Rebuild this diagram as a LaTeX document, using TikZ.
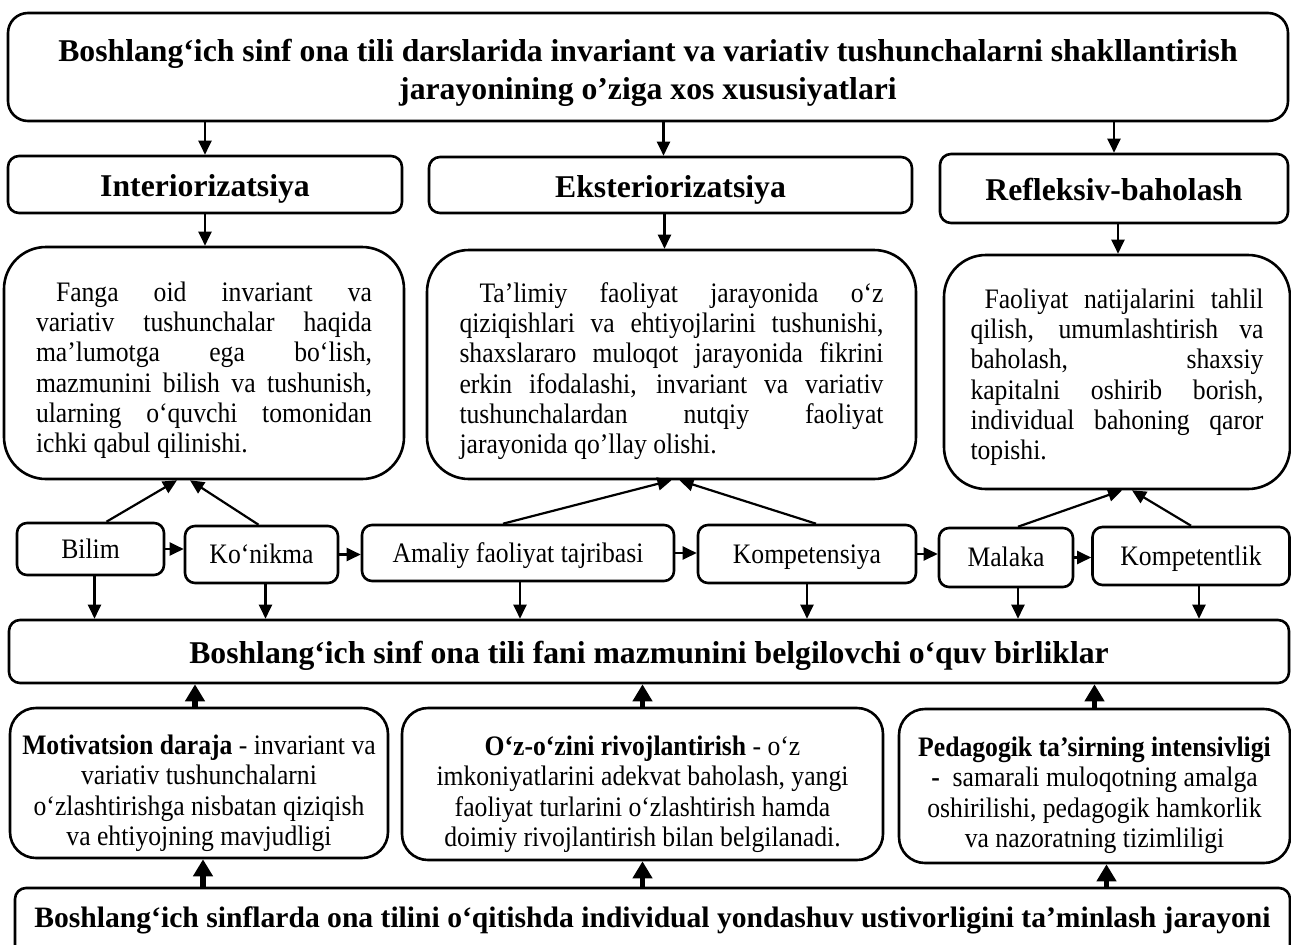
\documentclass[tikz,border=0pt]{standalone}
\usepackage{fontspec}
\setmainfont{Liberation Serif}
\newfontfamily\bodyfont[FakeStretch=0.91]{Liberation Serif}
\usetikzlibrary{arrows.meta}
\hyphenpenalty=10000
\tolerance=10000
\hbadness=10000

\begin{document}
\begin{tikzpicture}[x=1pt,y=-1pt,line width=2.6pt,
  title node/.style={draw,rounded corners=20pt,align=center,inner sep=0pt,
    font=\fontsize{31.7}{38}\selectfont\bfseries},
  head node/.style={title node,rounded corners=11pt,text height=24pt,text depth=0pt},
  text node/.style={draw,rounded corners=42pt,align=justify,inner sep=0pt,
    font=\bodyfont\fontsize{28.2}{30.3}\selectfont},
  unit node/.style={draw,rounded corners=10pt,inner sep=0pt,text height=18pt,text depth=0pt,
    font=\bodyfont\fontsize{28.2}{30.3}\selectfont},
  level node/.style={draw,rounded corners=26pt,align=center,inner sep=0pt,
    font=\bodyfont\fontsize{28.2}{30.5}\selectfont},
  thin arrow/.style={line width=2.2pt,-{Triangle[length=14pt,width=13pt]}},
  thick arrow/.style={line width=5.5pt,-{Triangle[length=17pt,width=19pt]}}]

  \useasboundingbox (0,0) rectangle (1291,945);

  % top
  \node[title node,minimum width=1280pt,minimum height=108pt] (title) at (648,67)
    {\rule{0pt}{34pt}Boshlang‘ich sinf ona tili darslarida invariant va variativ tushunchalarni shakllantirish\\
     jarayonining o’ziga xos xususiyatlari};

  \node[head node,minimum width=394pt,minimum height=57pt] (interior) at (205,184.5) {Interiorizatsiya};
  \node[head node,minimum width=483pt,minimum height=56pt] (exter) at (670.5,185) {Eksteriorizatsiya};
  \node[head node,minimum width=348pt,minimum height=69pt] (reflex) at (1114,188.5) {Refleksiv-baholash};

  \node[text node,text width=336pt,minimum width=400pt,minimum height=232pt] (fanga) at (204,363)
    {\rule{0pt}{34pt}\hspace*{20pt}Fanga oid invariant va\linebreak
     variativ tushunchalar haqida\linebreak
     ma’lumotga ega bo‘lish,\linebreak
     mazmunini bilish va tushunish,\linebreak
     ularning o‘quvchi tomonidan\linebreak
     ichki qabul qilinishi.};
  \node[text node,text width=424pt,minimum width=489pt,minimum height=229pt] (talimiy) at (671.5,364.5)
    {\rule{0pt}{33pt}\hspace*{20pt}Ta’limiy faoliyat jarayonida o‘z\linebreak
     qiziqishlari va ehtiyojlarini tushunishi,\linebreak
     shaxslararo muloqot jarayonida fikrini\linebreak
     erkin ifodalashi, invariant va variativ\linebreak
     tushunchalardan nutqiy faoliyat\linebreak
     jarayonida qo’llay olishi.};
  \node[text node,text width=293pt,minimum width=346pt,minimum height=234pt] (faoliyat) at (1117,372)
    {\rule{0pt}{30pt}\hspace*{14pt}Faoliyat natijalarini tahlil\linebreak
     qilish, umumlashtirish va\linebreak
     baholash, shaxsiy\linebreak
     kapitalni oshirib borish,\linebreak
     individual bahoning qaror\linebreak
     topishi.};

  % middle row
  \node[unit node,minimum width=147pt,minimum height=52pt] (bilim) at (90.5,549) {Bilim};
  \node[unit node,minimum width=153pt,minimum height=57pt] (konikma) at (261.5,554.5) {Ko‘nikma};
  \node[unit node,minimum width=312pt,minimum height=56pt] (amaliy) at (518,553) {Amaliy faoliyat tajribasi};
  \node[unit node,minimum width=218pt,minimum height=58pt] (kompetensiya) at (807,554) {Kompetensiya};
  \node[unit node,minimum width=134pt,minimum height=59pt] (malaka) at (1006,557.5) {Malaka};
  \node[unit node,minimum width=197pt,minimum height=58pt] (kompetentlik) at (1191,556) {Kompetentlik};

  \node[head node,minimum width=1280pt,minimum height=63pt] (birlik) at (649,651.5)
    {Boshlang‘ich sinf ona tili fani mazmunini belgilovchi o‘quv birliklar};

  % bottom
  \node[level node,minimum width=378pt,minimum height=150pt] (motiv) at (199,783)
    {\rule{0pt}{40pt}\textbf{Motivatsion daraja} - invariant va\\ variativ tushunchalarni\\
     o‘zlashtirishga nisbatan qiziqish\\ va ehtiyojning mavjudligi};
  \node[level node,minimum width=481pt,minimum height=152pt] (ozini) at (642.5,784)
    {\rule{0pt}{40pt}\textbf{O‘z-o‘zini rivojlantirish} - o‘z\\ imkoniyatlarini adekvat baholash, yangi\\
     faoliyat turlarini o‘zlashtirish hamda\\ doimiy rivojlantirish bilan belgilanadi.};
  \node[level node,minimum width=391pt,minimum height=154pt] (pedag) at (1094.5,786)
    {\rule{0pt}{38pt}\textbf{Pedagogik ta’sirning intensivligi}\\ \textbf{-}\ \ samarali muloqotning amalga\\
     oshirilishi, pedagogik hamkorlik\\ va nazoratning tizimliligi};

  \node[head node,minimum width=1275pt,minimum height=74pt,text height=4pt,
    font=\fontsize{29.6}{36}\selectfont\bfseries] (jarayon) at (652.5,925)
    {Boshlang‘ich sinflarda ona tilini o‘qitishda individual yondashuv ustivorligini ta’minlash jarayoni};

  \path[thin arrow]
   (title.south -| interior) edge (interior)
   ([xshift=-7pt]exter.north |- title.south) edge ([xshift=-7pt]exter.north)
   (title.south -| reflex) edge (reflex)
   (interior.south) edge (interior.south |- fanga.north)
   ([xshift=-6pt]exter.south) edge ([xshift=-6pt]exter.south |- talimiy.north)
   ([xshift=4pt]reflex.south) edge ([xshift=4pt]reflex.south |- faoliyat.north)
   ([xshift=16pt]bilim.north) edge ([xshift=-27pt]fanga.south)
   ([xshift=-3pt]konikma.north) edge ([xshift=-14pt]fanga.south)
   ([xshift=-15pt]amaliy.north) edge (talimiy.south)
   ([xshift=9pt]kompetensiya.north) edge ([xshift=8pt]talimiy.south)
   ([xshift=12pt]malaka.north) edge ([xshift=5pt]faoliyat.south)
   (kompetentlik.north) edge ([xshift=15pt]faoliyat.south)
   (bilim.east) edge (bilim.east -| konikma.west)
   (konikma.east) edge (konikma.east -| amaliy.west)
   (amaliy.east) edge (amaliy.east -| kompetensiya.west)
   (kompetensiya.east) edge (kompetensiya.east -| malaka.west)
   (malaka.east) edge (malaka.east -| kompetentlik.west)
   ([xshift=4pt]bilim.south) edge ([xshift=4pt]bilim.south |- birlik.north)
   ([xshift=4pt]konikma.south) edge ([xshift=4pt]konikma.south |- birlik.north)
   ([xshift=2pt]amaliy.south) edge ([xshift=2pt]amaliy.south |- birlik.north)
   (kompetensiya.south) edge (kompetensiya.south |- birlik.north)
   ([xshift=12pt]malaka.south) edge ([xshift=12pt]malaka.south |- birlik.north)
   ([xshift=8pt]kompetentlik.south) edge ([xshift=8pt]kompetentlik.south |- birlik.north);

  \path[thick arrow]
   ([xshift=-4pt]motiv.north) edge ([xshift=-4pt]motiv.north |- birlik.south)
   (ozini.north) edge (ozini.north |- birlik.south)
   (pedag.north) edge (pedag.north |- birlik.south)
   ([xshift=4pt]motiv.south |- jarayon.north) edge ([xshift=4pt]motiv.south)
   (ozini.south |- jarayon.north) edge (ozini.south)
   ([xshift=12pt]pedag.south |- jarayon.north) edge ([xshift=12pt]pedag.south);
\end{tikzpicture}
\end{document}
